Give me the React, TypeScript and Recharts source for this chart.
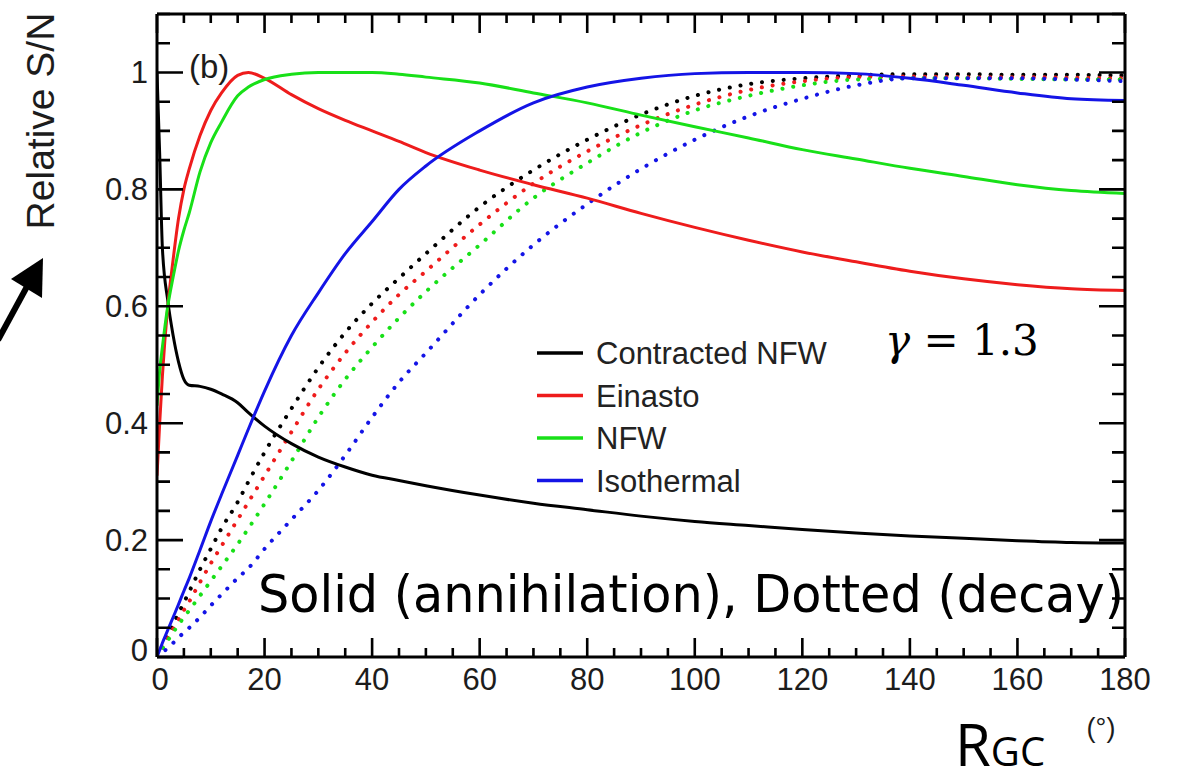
import React from 'react';
import { LineChart, Line, XAxis, YAxis } from 'recharts';

// galactocentric angle R_GC in degrees
const angles = [0, 0.5, 1, 2, 3, 4, 5, 6, 8, 10, 12, 15, 17, 20, 25, 30, 35, 40, 45, 50, 60, 70, 80, 90, 100, 110, 120, 130, 140, 150, 160, 170, 180];

// annihilation (solid)
const contractedAnn = [1.0, 0.86, 0.7, 0.61, 0.55, 0.505, 0.475, 0.465, 0.463, 0.458, 0.45, 0.435, 0.418, 0.395, 0.365, 0.342, 0.325, 0.311, 0.302, 0.293, 0.277, 0.263, 0.252, 0.241, 0.232, 0.225, 0.218, 0.212, 0.207, 0.203, 0.199, 0.196, 0.195];
const einastoAnn = [0.31, 0.4, 0.48, 0.6, 0.68, 0.75, 0.8, 0.835, 0.892, 0.935, 0.965, 0.995, 1.0, 0.99, 0.962, 0.938, 0.918, 0.9, 0.882, 0.863, 0.833, 0.808, 0.785, 0.759, 0.735, 0.713, 0.693, 0.676, 0.66, 0.647, 0.637, 0.63, 0.627];
const nfwAnn = [0.43, 0.49, 0.53, 0.6, 0.65, 0.695, 0.73, 0.76, 0.83, 0.88, 0.915, 0.96, 0.975, 0.988, 0.997, 1.0, 1.0, 1.0, 0.997, 0.992, 0.982, 0.965, 0.948, 0.927, 0.907, 0.888, 0.868, 0.852, 0.836, 0.822, 0.808, 0.798, 0.793];
const isoAnn = [0, 0.012, 0.024, 0.046, 0.068, 0.09, 0.113, 0.135, 0.183, 0.232, 0.278, 0.345, 0.39, 0.455, 0.55, 0.623, 0.69, 0.745, 0.8, 0.84, 0.9, 0.948, 0.975, 0.99, 0.998, 1.0, 1.0, 0.998, 0.99, 0.978, 0.965, 0.955, 0.952];

// decay (dotted)
const contractedDec = [0, 0.009, 0.019, 0.037, 0.056, 0.075, 0.093, 0.112, 0.15, 0.185, 0.22, 0.265, 0.3, 0.35, 0.425, 0.495, 0.555, 0.605, 0.648, 0.69, 0.77, 0.833, 0.885, 0.928, 0.96, 0.98, 0.99, 0.995, 0.997, 0.997, 0.996, 0.996, 0.995];
const einastoDec = [0, 0.008, 0.016, 0.032, 0.048, 0.064, 0.08, 0.095, 0.128, 0.16, 0.19, 0.235, 0.265, 0.31, 0.385, 0.458, 0.52, 0.573, 0.62, 0.66, 0.74, 0.81, 0.865, 0.91, 0.945, 0.97, 0.985, 0.992, 0.993, 0.992, 0.992, 0.991, 0.99];
const nfwDec = [0, 0.007, 0.014, 0.028, 0.042, 0.055, 0.068, 0.08, 0.105, 0.13, 0.155, 0.193, 0.22, 0.262, 0.335, 0.41, 0.475, 0.53, 0.58, 0.625, 0.705, 0.785, 0.845, 0.897, 0.935, 0.96, 0.978, 0.988, 0.99, 0.99, 0.989, 0.988, 0.988];
const isoDec = [0, 0.004, 0.008, 0.015, 0.024, 0.033, 0.042, 0.05, 0.068, 0.088, 0.107, 0.135, 0.152, 0.185, 0.235, 0.285, 0.345, 0.41, 0.47, 0.52, 0.62, 0.705, 0.775, 0.835, 0.885, 0.925, 0.955, 0.978, 0.99, 0.99, 0.99, 0.988, 0.985];

const profiles = ['Contracted NFW', 'Einasto', 'NFW', 'Isothermal'];
const colors = ['#000000', '#ee1c1c', '#18e018', '#1414e6'];
const annSeries = [contractedAnn, einastoAnn, nfwAnn, isoAnn];
const decSeries = [contractedDec, einastoDec, nfwDec, isoDec];

const xMajor = [0, 20, 40, 60, 80, 100, 120, 140, 160, 180];
const yMajor = [0, 0.2, 0.4, 0.6, 0.8, 1];
const xMinor = Array.from({ length: 37 }, (_, i) => i * 5);
const yMinor = Array.from({ length: 23 }, (_, i) => Math.round(i * 5) / 100);

const data = angles.map((x, i) => {
  const row: Record<string, number> = { x };
  profiles.forEach((p, k) => {
    row[`ann${k}`] = annSeries[k][i];
    row[`dec${k}`] = decSeries[k][i];
  });
  return row;
});

const W = 1179;
const H = 784;
const PLOT = { left: 157, top: 14, right: 1125, bottom: 657 };
const X_DOMAIN = [0, 180];
const Y_DOMAIN = [0, 1.1];
const labelFont = '"Liberation Sans", Arial, Helvetica, sans-serif';

// frame coordinates for the tick marks (same box and domains as the chart)
const sx = (v: number) => PLOT.left + ((v - X_DOMAIN[0]) / (X_DOMAIN[1] - X_DOMAIN[0])) * (PLOT.right - PLOT.left);
const sy = (v: number) => PLOT.bottom - ((v - Y_DOMAIN[0]) / (Y_DOMAIN[1] - Y_DOMAIN[0])) * (PLOT.bottom - PLOT.top);
const isMajor = (list: number[], v: number) => list.some((m) => Math.abs(m - v) < 1e-6);
const fmtY = (v: number) => (v === 0 ? '0' : v === 1 ? '1' : v.toFixed(1));

const BottomLabel = (props: any) => {
  const { x, payload } = props;
  return (
    <text x={x + (payload.value === 0 ? 3 : 0)} y={PLOT.bottom + 33} textAnchor="middle" fontSize={31} fontFamily={labelFont} fill="#1c1c1c">
      {payload.value}
    </text>
  );
};

const LeftLabel = (props: any) => {
  const { y, payload } = props;
  return (
    <text x={PLOT.left - 9} y={y + (payload.value === 0 ? 4 : 11)} textAnchor="end" fontSize={31} fontFamily={labelFont} fill="#1c1c1c">
      {fmtY(payload.value)}
    </text>
  );
};

export default function App() {
  const frame = { stroke: '#000', strokeWidth: 3 };
  const xCommon = { dataKey: 'x', type: 'number' as const, domain: X_DOMAIN, interval: 0 as const, height: 1, tickLine: false, allowDataOverflow: true };
  const yCommon = { type: 'number' as const, domain: Y_DOMAIN, interval: 0 as const, width: 1, tickLine: false, allowDataOverflow: true };

  // inward ticks on all four sides, longer at the labelled values
  const tickPath = [
    ...xMinor.map((v) => {
      const len = isMajor(xMajor, v) ? 19 : 9;
      return `M${sx(v)},${PLOT.bottom}v${-len}M${sx(v)},${PLOT.top}v${len}`;
    }),
    ...yMinor.map((v) => {
      const len = isMajor(yMajor, v) ? 26 : 13;
      return `M${PLOT.left},${sy(v)}h${len}M${PLOT.right},${sy(v)}h${-len}`;
    }),
  ].join('');

  return (
    <div style={{ position: 'absolute', left: 0, top: 0, width: W, height: H, background: '#fff' }}>
      <LineChart
        width={W}
        height={H}
        data={data}
        margin={{ top: PLOT.top - 1, left: PLOT.left - 1, right: W - PLOT.right - 1, bottom: H - PLOT.bottom - 1 }}
      >
        <XAxis xAxisId="b" {...xCommon} ticks={xMajor} tick={BottomLabel} axisLine={frame} />
        <XAxis xAxisId="t" orientation="top" {...xCommon} ticks={xMajor} tick={false} axisLine={frame} />
        <YAxis yAxisId="l" {...yCommon} ticks={yMajor} tick={LeftLabel} axisLine={frame} />
        <YAxis yAxisId="r" orientation="right" {...yCommon} ticks={yMajor} tick={false} axisLine={frame} />
        {profiles.map((p, k) => (
          <Line key={`dec${k}`} xAxisId="b" yAxisId="l" type="monotone" dataKey={`dec${k}`} stroke={colors[k]}
            strokeWidth={4} strokeDasharray="0.1 10.8" strokeLinecap="round" dot={false} isAnimationActive={false} />
        ))}
        {profiles.map((p, k) => (
          <Line key={`ann${k}`} xAxisId="b" yAxisId="l" type="monotone" dataKey={`ann${k}`} name={p} stroke={colors[k]}
            strokeWidth={3} dot={false} isAnimationActive={false} />
        ))}
      </LineChart>

      <svg width={W} height={H} style={{ position: 'absolute', left: 0, top: 0, pointerEvents: 'none' }}>
        <path d={tickPath} stroke="#000" strokeWidth={2.6} fill="none" />
        {/* legend for the annihilation curves */}
        {profiles.map((p, k) => (
          <g key={p}>
            <line x1={537} x2={583} y1={353 + k * 42.5} y2={353 + k * 42.5} stroke={colors[k]} strokeWidth={3.5} />
            <text x={596} y={364 + k * 42.5} fontSize={31} fontFamily={labelFont} fill="#222">{p}</text>
          </g>
        ))}
        <text transform="translate(54,121) rotate(-90)" textAnchor="middle" fontSize={39} fontFamily={labelFont} fill="#1c1c1c">
          Relative S/N
        </text>
        <text x={189} y={78} fontSize={33} fontFamily={labelFont} fill="#1c1c1c">(b)</text>
        <text x={885} y={355} fontSize={42} fontFamily='"DejaVu Serif", "Liberation Serif", serif' fill="#000">
          <tspan fontStyle="italic">γ</tspan> = 1.3
        </text>
        <text x={258} y={612} fontSize={52} fontFamily='"DejaVu Sans", sans-serif' fill="#000" textLength={866} lengthAdjust="spacingAndGlyphs">
          Solid (annihilation), Dotted (decay)
        </text>
        <text x={955} y={766} fontSize={58} fontFamily='"Open Sans", "Noto Sans", sans-serif' fill="#000">
          R<tspan fontSize={40}>GC</tspan>
        </text>
        <text x={1101} y={737} textAnchor="middle" fontSize={27} fontFamily={labelFont} fill="#1c1c1c">(°)</text>
        {/* pointer arrow next to the y-axis title */}
        <line x1={-2} y1={340} x2={36} y2={270} stroke="#000" strokeWidth={6} />
        <polygon points="43,258 11,279 42,298" fill="#000" />
      </svg>
    </div>
  );
}
